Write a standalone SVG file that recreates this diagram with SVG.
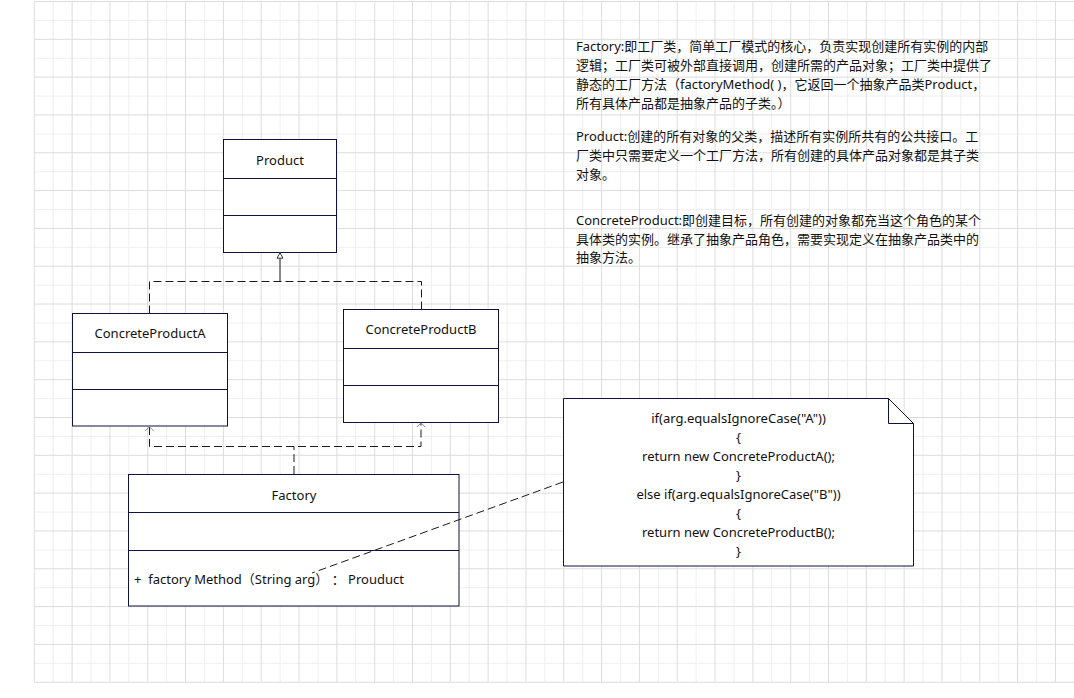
<svg xmlns="http://www.w3.org/2000/svg" width="1074" height="698" viewBox="0 0 1074 698">
<style>
.gmaj{stroke:#dcdcdc;stroke-width:1;fill:none}
.gmin{stroke:#efefef;stroke-width:1;fill:none}
.box{fill:#ffffff;stroke:#10123d;stroke-width:1}
.sep{stroke:#10123d;stroke-width:1;fill:none}
.t{font-family:"Noto Sans","Noto Sans CJK SC",sans-serif;font-size:13px;fill:#111}
.c{text-anchor:middle}
.dash{fill:none;stroke:#1a1a1a;stroke-width:1;stroke-dasharray:8 4}
.solid{fill:none;stroke:#1a1a1a;stroke-width:1}
.open{fill:none;stroke:#888;stroke-width:1}
</style>
<rect x="0" y="0" width="1074" height="698" fill="#ffffff"/>
<g id="grid">
<path class="gmin" d="M53.21,1.5V682.26M91.03,1.5V682.26M128.85,1.5V682.26M166.67,1.5V682.26M204.49,1.5V682.26M242.31,1.5V682.26M280.13,1.5V682.26M317.95,1.5V682.26M355.77,1.5V682.26M393.59,1.5V682.26M431.41,1.5V682.26M469.23,1.5V682.26M507.05,1.5V682.26M544.87,1.5V682.26M582.69,1.5V682.26M620.51,1.5V682.26M658.33,1.5V682.26M696.15,1.5V682.26M733.97,1.5V682.26M771.79,1.5V682.26M809.61,1.5V682.26M847.43,1.5V682.26M885.25,1.5V682.26M923.07,1.5V682.26M960.89,1.5V682.26M998.71,1.5V682.26M1036.53,1.5V682.26M1074.35,1.5V682.26
M34.3,20.41H1074M34.3,58.23H1074M34.3,96.05H1074M34.3,133.87H1074M34.3,171.69H1074M34.3,209.51H1074M34.3,247.33H1074M34.3,285.15H1074M34.3,322.97H1074M34.3,360.79H1074M34.3,398.61H1074M34.3,436.43H1074M34.3,474.25H1074M34.3,512.07H1074M34.3,549.89H1074M34.3,587.71H1074M34.3,625.53H1074M34.3,663.35H1074"/>
<path class="gmaj" d="M34.3,1.5V682.26M72.12,1.5V682.26M109.94,1.5V682.26M147.76,1.5V682.26M185.58,1.5V682.26M223.4,1.5V682.26M261.22,1.5V682.26M299.04,1.5V682.26M336.86,1.5V682.26M374.68,1.5V682.26M412.5,1.5V682.26M450.32,1.5V682.26M488.14,1.5V682.26M525.96,1.5V682.26M563.78,1.5V682.26M601.6,1.5V682.26M639.42,1.5V682.26M677.24,1.5V682.26M715.06,1.5V682.26M752.88,1.5V682.26M790.7,1.5V682.26M828.52,1.5V682.26M866.34,1.5V682.26M904.16,1.5V682.26M941.98,1.5V682.26M979.8,1.5V682.26M1017.62,1.5V682.26M1055.44,1.5V682.26
M34.3,1.5H1074M34.3,39.32H1074M34.3,77.14H1074M34.3,114.96H1074M34.3,152.78H1074M34.3,190.6H1074M34.3,228.42H1074M34.3,266.24H1074M34.3,304.06H1074M34.3,341.88H1074M34.3,379.7H1074M34.3,417.52H1074M34.3,455.34H1074M34.3,493.16H1074M34.3,530.98H1074M34.3,568.8H1074M34.3,606.62H1074M34.3,644.44H1074M34.3,682.26H1074"/>
</g>
<g id="description">
<text class="t" x="576" y="51">Factory:即工厂类，简单工厂模式的核心，负责实现创建所有实例的内部</text>
<text class="t" x="576" y="70">逻辑；工厂类可被外部直接调用，创建所需的产品对象；工厂类中提供了</text>
<text class="t" x="576" y="89">静态的工厂方法（factoryMethod( )，它返回一个抽象产品类Product，</text>
<text class="t" x="576" y="108">所有具体产品都是抽象产品的子类。）</text>
<text class="t" x="576" y="141">Product:创建的所有对象的父类，描述所有实例所共有的公共接口。工</text>
<text class="t" x="576" y="160">厂类中只需要定义一个工厂方法，所有创建的具体产品对象都是其子类</text>
<text class="t" x="576" y="179">对象。</text>
<text class="t" x="576" y="224.5">ConcreteProduct:即创建目标，所有创建的对象都充当这个角色的某个</text>
<text class="t" x="576" y="243.5">具体类的实例。继承了抽象产品角色，需要实现定义在抽象产品类中的</text>
<text class="t" x="576" y="262">抽象方法。</text>
</g>
<g id="Product">
<rect class="box" x="223.5" y="139.5" width="113" height="113"/>
<path class="sep" d="M223.5,178.5H336.5M223.5,215.5H336.5"/>
<text class="t c" x="280" y="165">Product</text>
</g>
<g id="ConcreteProductA">
<rect class="box" x="72.5" y="313.5" width="155" height="112.5"/>
<path class="sep" d="M72.5,352.5H227.5M72.5,389.5H227.5"/>
<text class="t c" x="150" y="338">ConcreteProductA</text>
</g>
<g id="ConcreteProductB">
<rect class="box" x="343.5" y="309.5" width="155" height="113"/>
<path class="sep" d="M343.5,348.5H498.5M343.5,385.5H498.5"/>
<text class="t c" x="421" y="334">ConcreteProductB</text>
</g>
<g id="Factory">
<rect class="box" x="128.5" y="474.5" width="330.5" height="131.5"/>
<path class="sep" d="M128.5,512.5H459M128.5,550.5H459"/>
<text class="t c" x="294" y="500">Factory</text>
<text class="t" x="134" y="584" xml:space="preserve">+  factory Method（String arg） ： Prouduct</text>
</g>
<g id="note">
<path class="box" d="M563.5,398.5H888.5L913.5,423.5V566H563.5Z"/>
<path class="sep" d="M888.5,398.5V423.5H913.5"/>
<text class="t c" x="738.5" y="423">if(arg.equalsIgnoreCase("A"))</text>
<text class="t c" x="738.5" y="442">{</text>
<text class="t c" x="738.5" y="461">return new ConcreteProductA();</text>
<text class="t c" x="738.5" y="480">}</text>
<text class="t c" x="738.5" y="499">else if(arg.equalsIgnoreCase("B"))</text>
<text class="t c" x="738.5" y="518">{</text>
<text class="t c" x="738.5" y="537">return new ConcreteProductB();</text>
<text class="t c" x="738.5" y="555.5">}</text>
</g>
<g id="connectors">
<path class="dash" d="M149.5,313.5V281.5H421.5V309.5"/>
<path class="solid" d="M280,281.5V258"/>
<path d="M280,252.8L277,258.2H283Z" fill="#ffffff" stroke="#333" stroke-width="1"/>
<path class="dash" d="M294,474V446.5"/>
<path class="dash" d="M149.5,427V446.5H421V423"/>
<path class="open" d="M145.3,431L149.5,426.8L153.7,431"/>
<path class="open" d="M416.8,427L421,422.8L425.2,427"/>
<path class="dash" d="M563,482L312,573"/>
</g>
</svg>
